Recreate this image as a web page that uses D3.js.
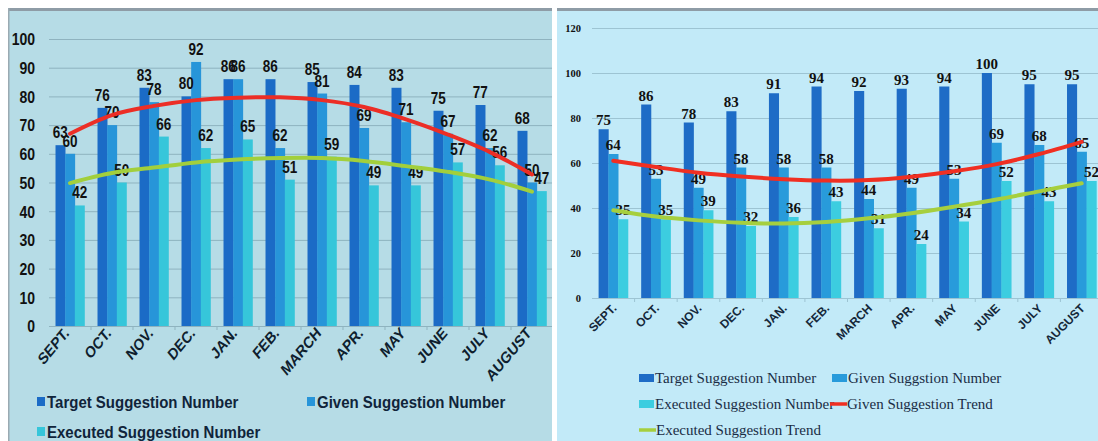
<!DOCTYPE html>
<html>
<head>
<meta charset="utf-8">
<script src="https://cdn.jsdelivr.net/npm/d3@7"></script>
<style>
  html, body { margin: 0; padding: 0; background: #ffffff; }
  svg { display: block; }
</style>
</head>
<body>
<svg id="chart" width="1098" height="441"></svg>
<script>
// ---- Data -------------------------------------------------------------
const months = ["SEPT.", "OCT.", "NOV.", "DEC.", "JAN.", "FEB.", "MARCH", "APR.", "MAY", "JUNE", "JULY", "AUGUST"];

// First year (left panel)
const targetA   = [63, 76, 83, 80, 86, 86, 85, 84, 83, 75, 77, 68];
const givenA    = [60, 70, 78, 92, 86, 62, 81, 69, 71, 67, 62, 50];
const executedA = [42, 50, 66, 62, 65, 51, 59, 49, 49, 57, 56, 47];
const givenTrendA    = [67, 73.5, 76.7, 78.7, 79.5, 79.7, 78.7, 76.3, 72, 66.7, 60.6, 52.8];
const executedTrendA = [49.8, 53.3, 55.2, 57, 58, 58.5, 58.5, 57.5, 55.7, 53.7, 51, 46.8];
const ticksA = [0, 10, 20, 30, 40, 50, 60, 70, 80, 90, 100];

// Second year (right panel)
const targetB   = [75, 86, 78, 83, 91, 94, 92, 93, 94, 100, 95, 95];
const givenB    = [64, 53, 49, 58, 58, 58, 44, 49, 53, 69, 68, 65];
const executedB = [35, 35, 39, 32, 36, 43, 31, 24, 34, 52, 43, 52];
const givenTrendB    = [61, 58.2, 55.7, 54, 52.8, 52.2, 52.4, 53.9, 56.3, 59.5, 64, 69.4];
const executedTrendB = [39, 36.2, 34.5, 33.4, 33.1, 33.8, 35.4, 37.7, 40.6, 43.8, 47.4, 51];
const ticksB = [0, 20, 40, 60, 80, 100, 120];

const seriesKeys = ["target", "given", "executed"];

const svg = d3.select("#chart");
const defs = svg.append("defs");

function drawPanel(cfg) {
  const rows = months.map((m, i) => ({
    month: m,
    target: cfg.target[i],
    given: cfg.given[i],
    executed: cfg.executed[i],
    givenTrend: cfg.givenTrend[i],
    executedTrend: cfg.executedTrend[i]
  }));
  const s = cfg.stretch;

  defs.append("clipPath").attr("id", cfg.id + "-clip")
    .append("rect")
    .attr("x", cfg.box[0]).attr("y", cfg.box[1])
    .attr("width", cfg.box[2]).attr("height", cfg.box[3]);

  const g = svg.append("g").attr("clip-path", `url(#${cfg.id}-clip)`);

  // panel background + top frame
  g.append("rect")
    .attr("x", cfg.box[0]).attr("y", cfg.box[1])
    .attr("width", cfg.box[2]).attr("height", cfg.box[3])
    .attr("fill", cfg.bg);
  g.append("rect")
    .attr("x", cfg.box[0]).attr("y", cfg.box[1])
    .attr("width", cfg.box[2]).attr("height", 3)
    .attr("fill", "#8e9ca6");
  if (cfg.leftEdge) {
    g.append("rect")
      .attr("x", cfg.box[0]).attr("y", cfg.box[1])
      .attr("width", 1.5).attr("height", cfg.box[3])
      .attr("fill", "#9aaab2");
  }

  const x = d3.scaleBand().domain(months).range(cfg.xRange)
    .paddingInner(0.31).paddingOuter(0.155);
  const xs = d3.scaleBand().domain(seriesKeys).range([0, x.bandwidth()]);
  const y = d3.scaleLinear().domain(cfg.yDomain).range(cfg.yRange);

  // horizontal gridlines
  g.append("g")
    .attr("transform", `translate(${cfg.xRange[0]},0)`)
    .call(d3.axisLeft(y).tickValues(cfg.ticks).tickFormat("")
      .tickSize(-(cfg.box[0] + cfg.box[2] - cfg.xRange[0])))
    .call(a => a.select(".domain").remove())
    .call(a => a.selectAll("line").attr("stroke", cfg.gridColor).attr("stroke-width", 1));

  // small category ticks along the baseline
  g.append("g").selectAll("line")
    .data(months.slice(1))
    .join("line")
    .attr("x1", d => x(d) - x.step() * 0.155)
    .attr("x2", d => x(d) - x.step() * 0.155)
    .attr("y1", y(0)).attr("y2", y(0) + 4)
    .attr("stroke", cfg.gridColor);

  // y tick labels
  g.append("g")
    .attr("transform", `translate(${cfg.tickX},0)`)
    .call(d3.axisLeft(y).tickValues(cfg.ticks).tickSize(0).tickPadding(0))
    .call(a => a.select(".domain").remove())
    .call(a => a.selectAll("text")
      .attr("x", 0).attr("dy", "0.35em")
      .attr("transform", `scale(1,${s})`)
      .attr("font-family", cfg.tickFont)
      .attr("font-size", cfg.tickSize)
      .attr("font-weight", "bold")
      .attr("fill", cfg.textColor));

  // bars
  const groups = g.append("g").selectAll("g")
    .data(rows)
    .join("g")
    .attr("transform", d => `translate(${x(d.month)},0)`);

  groups.selectAll("rect")
    .data(d => seriesKeys.map(k => ({ key: k, value: d[k] })))
    .join("rect")
    .attr("x", d => xs(d.key))
    .attr("width", xs.bandwidth() + 0.3)
    .attr("y", d => y(d.value))
    .attr("height", d => y(0) - y(d.value))
    .attr("fill", d => cfg.colors[d.key]);

  // trend lines
  const line = key => d3.line()
    .x(d => x(d.month) + x.bandwidth() / 2)
    .y(d => y(d[key]))
    .curve(d3.curveCatmullRom.alpha(0.5));

  g.append("path").datum(rows)
    .attr("d", line("executedTrend"))
    .attr("fill", "none")
    .attr("stroke", cfg.executedTrendColor)
    .attr("stroke-width", 4)
    .attr("stroke-linecap", "round");
  g.append("path").datum(rows)
    .attr("d", line("givenTrend"))
    .attr("fill", "none")
    .attr("stroke", cfg.givenTrendColor)
    .attr("stroke-width", 4)
    .attr("stroke-linecap", "round");

  // value labels
  groups.selectAll("text")
    .data(d => seriesKeys.map(k => ({ key: k, value: d[k] })))
    .join("text")
    .attr("transform", d =>
      `translate(${xs(d.key) + xs.bandwidth() / 2},${y(d.value) - cfg.labelGap}) scale(1,${cfg.labelStretch})`)
    .attr("text-anchor", "middle")
    .attr("font-family", cfg.labelFont)
    .attr("font-size", cfg.labelSize)
    .attr("font-weight", "bold")
    .attr("fill", "#111111")
    .text(d => d.value);

  // month labels
  g.append("g")
    .attr("transform", `translate(0,${y(0)})`)
    .call(d3.axisBottom(x).tickSize(0).tickPadding(0))
    .call(a => a.select(".domain").remove())
    .call(a => a.selectAll("text")
      .attr("y", 0).attr("dy", 0)
      .attr("transform", `translate(${cfg.monthDx},${cfg.monthDy}) scale(1,${cfg.monthStretch}) rotate(-45)`)
      .attr("text-anchor", "end")
      .attr("font-family", "Liberation Sans, Arial, sans-serif")
      .attr("font-size", cfg.monthSize)
      .attr("font-weight", "bold")
      .attr("fill", cfg.monthColor));

  return g;
}

// ---- Left panel -------------------------------------------------------
const colorsA = { target: "#1b6bc6", given: "#2795d9", executed: "#36c6da" };
const left = drawPanel({
  id: "left",
  box: [8, 8, 544, 433],
  bg: "#b6dce6",
  leftEdge: true,
  stretch: 1.2,
  target: targetA, given: givenA, executed: executedA,
  givenTrend: givenTrendA, executedTrend: executedTrendA,
  ticks: ticksA,
  xRange: [49, 553],
  yDomain: [0, 100], yRange: [326, 39],
  gridColor: "#8fb3bf",
  tickX: 35, tickFont: "Liberation Sans, Arial, sans-serif", tickSize: 14,
  textColor: "#111111",
  colors: colorsA,
  givenTrendColor: "#ec2e26", executedTrendColor: "#a2cf3c",
  labelFont: "Liberation Sans, Arial, sans-serif", labelSize: 13.5, labelStretch: 1.25, labelGap: 7,
  monthDx: 0, monthDy: 8, monthSize: 13.5, monthStretch: 1.2, monthColor: "#0f1e2e"
});

const legendA = [
  { label: "Target Suggestion Number", key: "target", x: 37, y: 402 },
  { label: "Given Suggestion Number", key: "given", x: 307, y: 402 },
  { label: "Executed Suggestion Number", key: "executed", x: 37, y: 432 }
];
const legA = left.append("g").selectAll("g").data(legendA).join("g")
  .attr("transform", d => `translate(${d.x},${d.y})`);
legA.append("rect").attr("x", 0).attr("y", -5).attr("width", 8).attr("height", 9)
  .attr("fill", d => colorsA[d.key]);
legA.append("text")
  .attr("transform", "translate(10,6) scale(1,1.15)")
  .attr("font-family", "Liberation Sans, Arial, sans-serif")
  .attr("font-size", 15).attr("font-weight", "bold").attr("fill", "#10243a")
  .text(d => d.label);

// ---- Right panel ------------------------------------------------------
const colorsB = { target: "#1e6cc6", given: "#289bdb", executed: "#3ccde0" };
const right = drawPanel({
  id: "right",
  box: [557, 8, 541, 433],
  bg: "#c2eaf8",
  leftEdge: false,
  stretch: 1,
  target: targetB, given: givenB, executed: executedB,
  givenTrend: givenTrendB, executedTrend: executedTrendB,
  ticks: ticksB,
  xRange: [592, 1103],
  yDomain: [0, 120], yRange: [298, 28],
  gridColor: "#9dc4d3",
  tickX: 581, tickFont: "Liberation Serif, serif", tickSize: 10.5,
  textColor: "#111111",
  colors: colorsB,
  givenTrendColor: "#f02f22", executedTrendColor: "#a6cf3e",
  labelFont: "Liberation Serif, serif", labelSize: 15, labelStretch: 1, labelGap: 4,
  monthDx: 4, monthDy: 11, monthSize: 12, monthStretch: 1, monthColor: "#15283a"
});

const legendB = [
  { label: "Target Suggestion Number", type: "rect", color: colorsB.target, x: 639, y: 378 },
  { label: "Given Suggstion Number", type: "rect", color: colorsB.given, x: 832, y: 378 },
  { label: "Executed Suggestion Number", type: "rect", color: colorsB.executed, x: 639, y: 404 },
  { label: "Given Suggestion Trend", type: "line", color: "#f02f22", x: 830, y: 404 },
  { label: "Executed Suggestion Trend", type: "line", color: "#a6cf3e", x: 639, y: 430 }
];
const legB = right.append("g").selectAll("g").data(legendB).join("g")
  .attr("transform", d => `translate(${d.x},${d.y})`);
legB.filter(d => d.type === "rect").append("rect")
  .attr("x", 0).attr("y", -4).attr("width", 15).attr("height", 8)
  .attr("fill", d => d.color);
legB.filter(d => d.type === "line").append("line")
  .attr("x1", 0).attr("x2", 17).attr("y1", 0).attr("y2", 0)
  .attr("stroke", d => d.color).attr("stroke-width", 3.5);
legB.append("text")
  .attr("x", d => d.type === "line" ? 17 : 16).attr("y", 5)
  .attr("font-family", "Liberation Serif, serif")
  .attr("font-size", 15).attr("fill", "#1a2d45")
  .text(d => d.label);
</script>
</body>
</html>
